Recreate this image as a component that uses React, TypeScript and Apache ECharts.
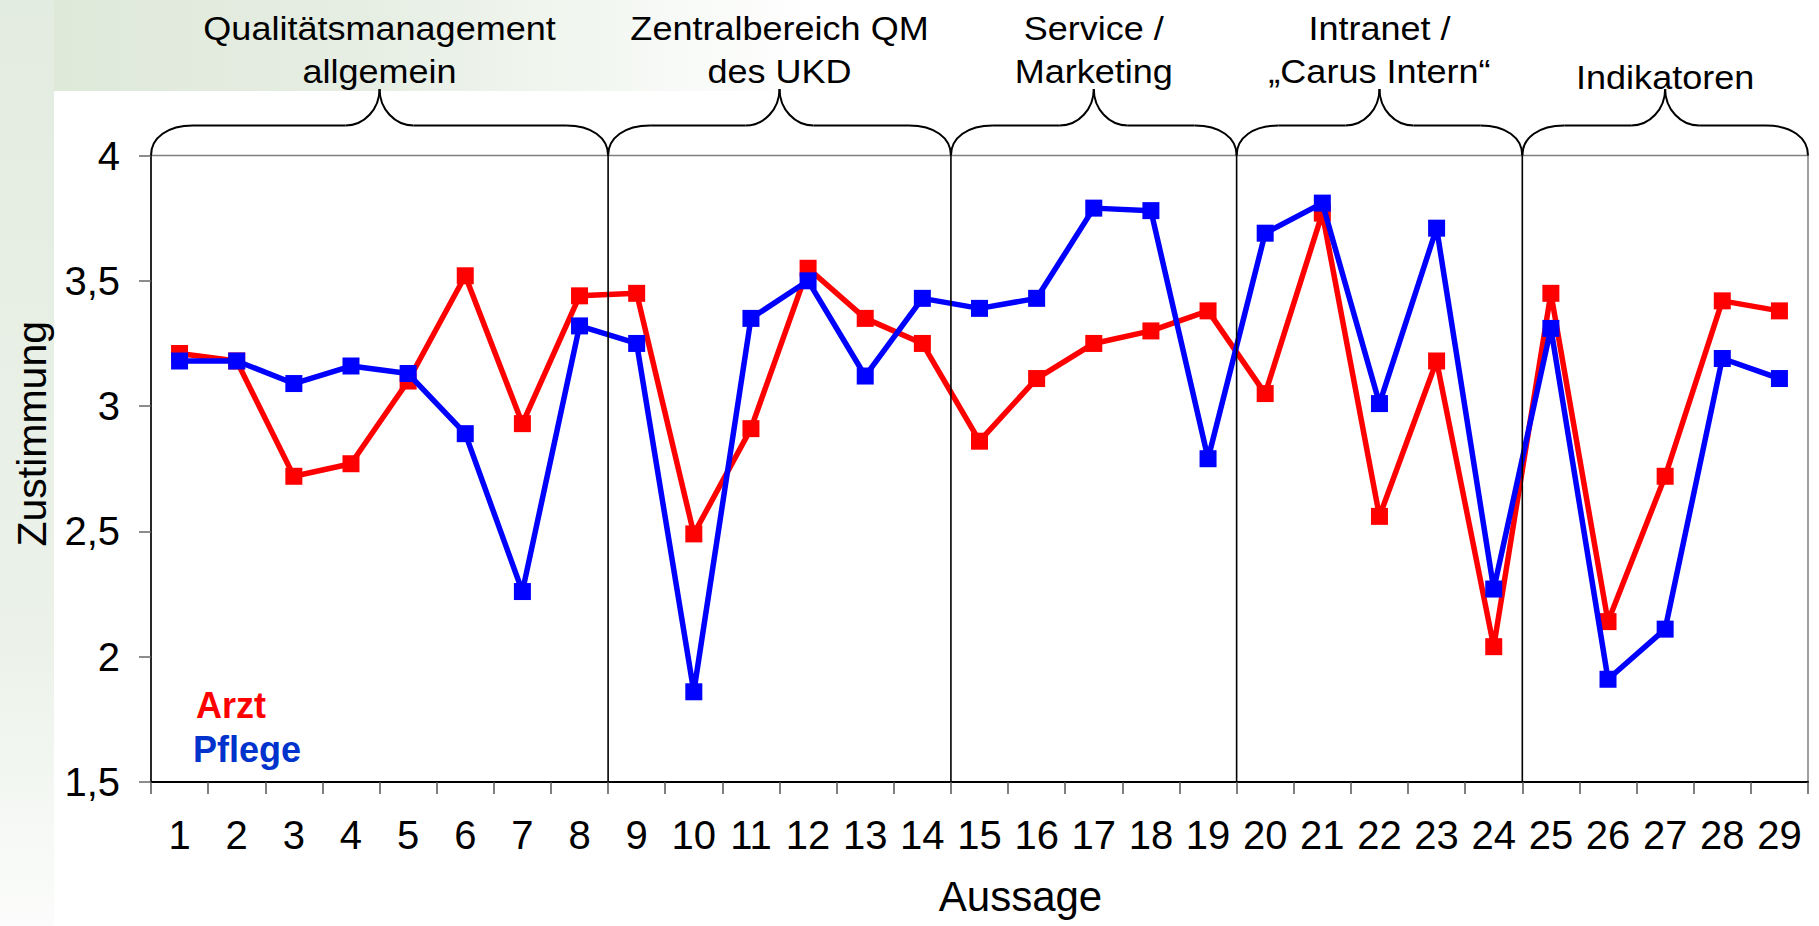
import { useEffect, useRef } from 'react';
import * as echarts from 'echarts';

const categories = ['1','2','3','4','5','6','7','8','9','10','11','12','13','14','15','16','17','18','19','20','21','22','23','24','25','26','27','28','29'];
const arzt = [3.21, 3.18, 2.72, 2.77, 3.1, 3.52, 2.93, 3.44, 3.45, 2.49, 2.91, 3.55, 3.35, 3.25, 2.86, 3.11, 3.25, 3.3, 3.38, 3.05, 3.77, 2.56, 3.18, 2.04, 3.45, 2.14, 2.72, 3.42, 3.38];
const pflege = [3.18, 3.18, 3.09, 3.16, 3.13, 2.89, 2.26, 3.32, 3.25, 1.86, 3.35, 3.5, 3.12, 3.43, 3.39, 3.43, 3.79, 3.78, 2.79, 3.69, 3.81, 3.01, 3.71, 2.27, 3.31, 1.91, 2.11, 3.19, 3.11];
const groupLabels = ['Qualitätsmanagement\nallgemein', 'Zentralbereich QM\ndes UKD', 'Service /\nMarketing', 'Intranet /\n„Carus Intern“', 'Indikatoren'];
const groupEnds = [8, 14, 19, 24, 29];
const yMin = 1.5;
const yMax = 4;
const yStep = 0.5;
const seriesNames = ['Arzt', 'Pflege'];
const xName = 'Aussage';
const yName = 'Zustimmung';

const FONT = '"Liberation Sans", Arial, Helvetica, sans-serif';

export default function App() {
  const ref = useRef<HTMLDivElement>(null);
  useEffect(() => {
    const chart = echarts.init(ref.current!, null, { renderer: 'svg' });
    chart.setOption({
      animation: false,
      textStyle: { fontFamily: FONT },
      grid: {
        left: 151, right: 11, top: 155.5, bottom: 144,
        show: true, borderColor: '#808080', borderWidth: 1.5, backgroundColor: 'transparent'
      },
      xAxis: {
        type: 'category',
        data: categories,
        boundaryGap: true,
        axisLine: { lineStyle: { color: '#000', width: 2 } },
        axisTick: { show: true, interval: 0, length: 12, lineStyle: { color: '#555', width: 1.5 } },
        axisLabel: { interval: 0, fontSize: 40, color: '#000', margin: 33, fontFamily: FONT },
        splitLine: { show: false }
      },
      yAxis: {
        type: 'value',
        min: yMin, max: yMax, interval: yStep,
        axisLine: { show: true, lineStyle: { color: '#000', width: 1.5 } },
        axisTick: { show: true, length: 12, lineStyle: { color: '#666', width: 1.5 } },
        axisLabel: {
          fontSize: 40, color: '#000', margin: 31, fontFamily: FONT,
          formatter: (v: number) => String(v).replace('.', ',')
        },
        splitLine: { show: false }
      },
      series: [
        {
          name: seriesNames[0], type: 'line', data: arzt, symbol: 'rect', symbolSize: 17,
          itemStyle: { color: '#ff0000' }, lineStyle: { color: '#ff0000', width: 5.5 }, z: 3
        },
        {
          name: seriesNames[1], type: 'line', data: pflege, symbol: 'rect', symbolSize: 17,
          itemStyle: { color: '#0000ff' }, lineStyle: { color: '#0000ff', width: 5.5 }, z: 4
        }
      ]
    });

    const px = (i: number) => chart.convertToPixel({ xAxisIndex: 0 }, i) as number;
    const band = px(1) - px(0);
    const bnd = (k: number) => px(0) - band / 2 + k * band;
    const yTop = chart.convertToPixel({ yAxisIndex: 0 }, yMax) as number;
    const yBot = chart.convertToPixel({ yAxisIndex: 0 }, yMin) as number;
    const xLeft = bnd(0);
    const xRight = bnd(categories.length);

    const elems: any[] = [];
    // background decoration
    elems.push({
      type: 'rect', z: -10, silent: true,
      shape: { x: 0, y: 0, width: 1819, height: yTop - 64.5 },
      style: {
        fill: new echarts.graphic.LinearGradient(0, 0, 1, 0, [
          { offset: 0, color: '#dde8d8' },
          { offset: 0.2, color: '#e6eee3' },
          { offset: 0.45, color: '#ffffff' },
          { offset: 1, color: '#ffffff' }
        ])
      }
    });
    elems.push({
      type: 'rect', z: -10, silent: true,
      shape: { x: 0, y: 0, width: 54, height: 926 },
      style: {
        fill: new echarts.graphic.LinearGradient(0, 0, 0, 1, [
          { offset: 0, color: '#e3ece0' },
          { offset: 0.7, color: '#ecf2ea' },
          { offset: 1, color: '#fbfcfb' }
        ])
      }
    });

    // group separators
    groupEnds.slice(0, -1).forEach((k) => {
      elems.push({
        type: 'line', z: 5, silent: true,
        shape: { x1: bnd(k), y1: yTop, x2: bnd(k), y2: yBot },
        style: { stroke: '#000', lineWidth: 1.6 }
      });
    });

    // braces and labels
    let start = 0;
    groupEnds.forEach((end, gi) => {
      const xL = bnd(start);
      const xR = bnd(end);
      const mid = (xL + xR) / 2;
      const yB = yTop;
      const yF = yTop - 30;
      const yT = yTop - 66.5;
      const er = 42;
      const tr = 34;
      const st = { stroke: '#000', lineWidth: 2, fill: 'none' };
      elems.push({ type: 'bezierCurve', z: 6, silent: true, style: st,
        shape: { x1: xL, y1: yB, cpx1: xL, cpy1: yB - 0.6 * (yB - yF), cpx2: xL + er * 0.4, cpy2: yF, x2: xL + er, y2: yF } });
      elems.push({ type: 'line', z: 6, silent: true, style: st,
        shape: { x1: xL + er, y1: yF, x2: mid - tr, y2: yF } });
      elems.push({ type: 'bezierCurve', z: 6, silent: true, style: st,
        shape: { x1: mid - tr, y1: yF, cpx1: mid - tr * 0.45, cpy1: yF, cpx2: mid, cpy2: yT + 0.55 * (yF - yT), x2: mid, y2: yT } });
      elems.push({ type: 'bezierCurve', z: 6, silent: true, style: st,
        shape: { x1: mid, y1: yT, cpx1: mid, cpy1: yT + 0.55 * (yF - yT), cpx2: mid + tr * 0.45, cpy2: yF, x2: mid + tr, y2: yF } });
      elems.push({ type: 'line', z: 6, silent: true, style: st,
        shape: { x1: mid + tr, y1: yF, x2: xR - er, y2: yF } });
      elems.push({ type: 'bezierCurve', z: 6, silent: true, style: st,
        shape: { x1: xR - er, y1: yF, cpx1: xR - er * 0.4, cpy1: yF, cpx2: xR, cpy2: yB - 0.6 * (yB - yF), x2: xR, y2: yB } });
      const label = groupLabels[gi];
      const twoLine = label.indexOf('\n') >= 0;
      elems.push({
        type: 'text', z: 6, silent: true,
        x: mid, y: twoLine ? yTop - 106.5 : yTop - 78.5,
        scaleX: 1.06,
        style: {
          text: label, x: 0, y: 0, align: 'center', verticalAlign: 'middle',
          fontSize: 34, lineHeight: 43, fontFamily: FONT, fill: '#000'
        }
      });
      start = end;
    });

    // legend texts
    elems.push({ type: 'text', z: 6, silent: true, x: xLeft + 45, y: yBot - 77,
      style: { text: seriesNames[0], align: 'left', verticalAlign: 'middle', fontSize: 36, fontWeight: 'bold', fontFamily: FONT, fill: '#ff0000' } });
    elems.push({ type: 'text', z: 6, silent: true, x: xLeft + 42, y: yBot - 33,
      style: { text: seriesNames[1], align: 'left', verticalAlign: 'middle', fontSize: 36, fontWeight: 'bold', fontFamily: FONT, fill: '#0033cc' } });

    // axis names
    elems.push({ type: 'text', z: 6, silent: true, x: (xLeft + xRight) / 2 + 41, y: yBot + 114,
      style: { text: xName, align: 'center', verticalAlign: 'middle', fontSize: 42, fontFamily: FONT, fill: '#000' } });
    elems.push({ type: 'text', z: 6, silent: true, x: 32, y: (yTop + yBot) / 2 - 35, rotation: Math.PI / 2,
      style: { text: yName, align: 'center', verticalAlign: 'middle', fontSize: 41, fontFamily: FONT, fill: '#000' } });

    chart.setOption({ graphic: elems });
    return () => chart.dispose();
  }, []);
  return <div ref={ref} style={{ position: 'fixed', left: 0, top: 0, width: 1819, height: 926, background: '#fff' }} />;
}
